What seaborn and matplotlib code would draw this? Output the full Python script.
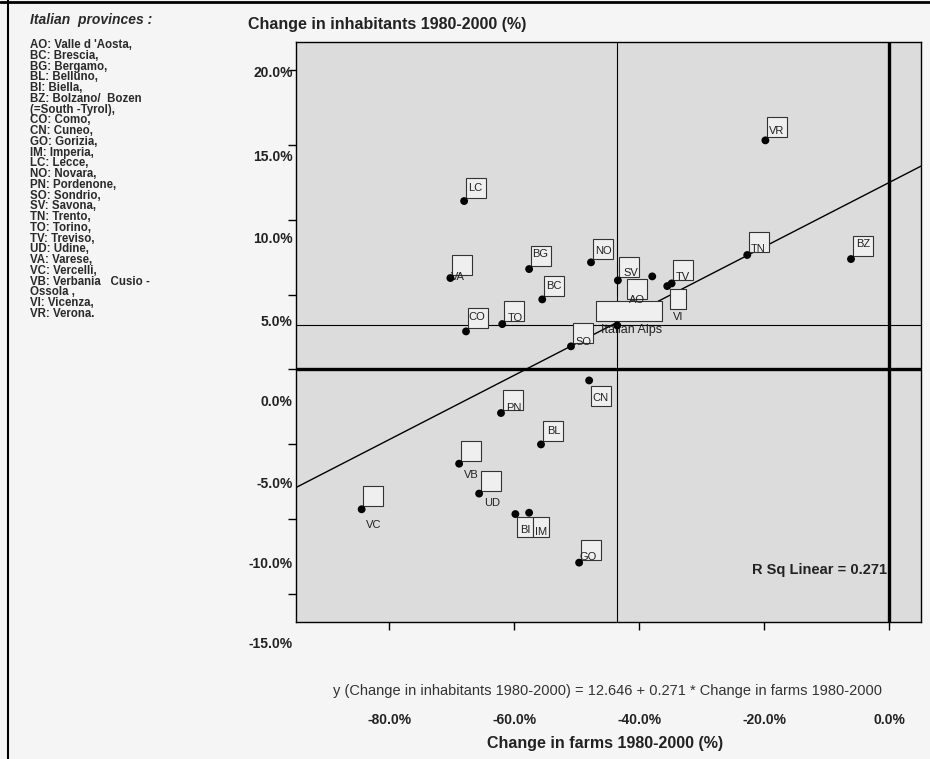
import numpy as np
import pandas as pd
import seaborn as sns
import matplotlib.pyplot as plt
from matplotlib.lines import Line2D
from matplotlib.transforms import ScaledTranslation

# --- values ---
PROVINCES = ["LC", "VA", "BG", "BC", "NO", "CO", "TO", "SO", "SV", "AO", "TV", "VI",
             "TN", "VR", "BZ", "CN", "PN", "BL", "VB", "UD", "VC", "BI", "IM", "GO"]
FARMS_CHANGE = [-68.0, -70.2, -57.6, -55.5, -47.7, -67.7, -61.9, -50.9, -43.4, -37.9, -34.8, -35.5,
                -22.7, -19.8, -6.1, -48.0, -62.1, -55.7, -68.8, -65.6, -84.4, -59.8, -57.6, -49.6]
INHAB_CHANGE = [11.26, 6.11, 6.71, 4.68, 7.16, 2.54, 3.03, 1.54, 5.95, 6.22, 5.75, 5.57,
                7.65, 15.32, 7.38, -0.74, -2.92, -5.02, -6.31, -8.31, -9.36, -9.68, -9.59, -12.93]

ALPS_LABEL = "Italian Alps"
ALPS_FARMS = -43.5
ALPS_INHAB = 2.94

FIT_INTERCEPT = 12.5
FIT_SLOPE = 0.215
EQUATION = "y (Change in inhabitants 1980-2000) = 12.646 + 0.271 * Change in farms 1980-2000"
RSQ_TEXT = "R Sq Linear = 0.271"

X_TICKS = [-80, -60, -40, -20, 0]
Y_TICKS = [20, 15, 10, 5, 0, -5, -10, -15]

LEGEND_TITLE = "Italian  provinces :"
LEGEND_LINES = [
    "AO: Valle d 'Aosta,", "BC: Brescia,", "BG: Bergamo,", "BL: Belluno,", "BI: Biella,",
    "BZ: Bolzano/  Bozen", "(=South -Tyrol),", "CO: Como,", "CN: Cuneo,", "GO: Gorizia,",
    "IM: Imperia,", "LC: Lecce,", "NO: Novara,", "PN: Pordenone,", "SO: Sondrio,",
    "SV: Savona,", "TN: Trento,", "TO: Torino,", "TV: Treviso,", "UD: Udine,",
    "VA: Varese,", "VC: Vercelli,", "VB: Verbania   Cusio -", "Ossola ,", "VI: Vicenza,",
    "VR: Verona.",
]

# --- label box / text placement (pixels from the dot, screen y down) ---
BOX_DEFAULT = (11.5, -13)
BOX_OFFSETS = {"CN": (11.5, 15.5), "AO": (-15, 12.5), "VI": (11, 13),
               "BI": (9.5, 13.3), "IM": (11.8, 14.2)}
NARROW_BOXES = {"VI", "BI", "IM"}
TEXT_OFFSETS = {
    "LC": (11.3, -13), "VA": (8, -1), "BG": (10.6, -15), "BC": (11.3, -13), "NO": (12.3, -11),
    "CO": (10.7, -14), "TO": (13, -6), "SO": (12.6, -4.3), "SV": (12.7, -7.7), "AO": (-15, 24),
    "TV": (11.5, -6.3), "VI": (11, 31), "TN": (11, -5.7), "VR": (11.7, -9.3), "BZ": (11.7, -15),
    "CN": (11, 18), "PN": (12.6, -5.4), "BL": (12.6, -13), "VB": (12, 11), "UD": (13, 9.4),
    "VC": (12, 16), "BI": (9.5, 16), "IM": (12, 19), "GO": (8.6, -5.6),
}
# y tick labels in the scan sit lower than their tick marks
YLABEL_DRIFT = [1, 10, 17.7, 25.5, 31, 38.5, 44, 49]

sns.set_style("white")
plt.rcParams['font.family'] = ['Liberation Sans', 'DejaVu Sans']

df = pd.DataFrame({"province": PROVINCES, "farms": FARMS_CHANGE, "inhab": INHAB_CHANGE})

fig = plt.figure(figsize=(9.3, 7.59), dpi=100, facecolor="#f5f5f5")
ax = fig.add_axes([296 / 930, 1 - 622 / 759, 625 / 930, 580 / 759])
ax.set_facecolor("#dcdcdc")
ax.set_xlim(-94.9, 5.1)
ax.set_ylim(-16.9, 21.9)


def px_shift(dx, dy):
    return ax.transData + ScaledTranslation(dx / 100, -dy / 100, fig.dpi_scale_trans)


# reference lines: zero lines thick, means (Italian Alps) thin
ax.axvline(0, color="black", lw=2.4, zorder=1)
ax.axhline(0, color="black", lw=2.4, zorder=1)
ax.axvline(ALPS_FARMS, color="black", lw=0.8, zorder=1)
ax.axhline(ALPS_INHAB, color="black", lw=0.8, zorder=1)

# fit line
xs = np.array(ax.get_xlim())
ax.plot(xs, FIT_INTERCEPT + FIT_SLOPE * xs, color="black", lw=1.0, zorder=2)

narrow = [(-0.38, -0.5), (0.38, -0.5), (0.38, 0.5), (-0.38, 0.5), (-0.38, -0.5)]
wide = [(-1.675, -0.5), (1.675, -0.5), (1.675, 0.5), (-1.675, 0.5), (-1.675, -0.5)]

for _, row in df.iterrows():
    p = row["province"]
    bdx, bdy = BOX_OFFSETS.get(p, BOX_DEFAULT)
    marker = narrow if p in NARROW_BOXES else "s"
    ax.plot(row["farms"], row["inhab"], marker=marker, ms=15, mfc="#efefef", mec="#333333",
            mew=0.8, ls="none", transform=px_shift(bdx, bdy), zorder=3)
    tdx, tdy = TEXT_OFFSETS[p]
    ax.annotate(p, (row["farms"], row["inhab"]), xytext=(tdx, -tdy), textcoords="offset pixels",
                ha="center", va="center", fontsize=8, color="#222222", zorder=4)

# Italian Alps box
ax.plot(ALPS_FARMS, ALPS_INHAB, marker=wide, ms=48, mfc="#efefef", mec="#333333", mew=0.8,
        ls="none", transform=px_shift(11.5, -14), zorder=3)
ax.annotate(ALPS_LABEL, (ALPS_FARMS, ALPS_INHAB), xytext=(14, -5), textcoords="offset pixels",
            ha="center", va="center", fontsize=9, color="#222222", zorder=4)

sns.scatterplot(data=df, x="farms", y="inhab", color="black", s=32, edgecolor="none",
                ax=ax, zorder=5, legend=False)
ax.scatter([ALPS_FARMS], [ALPS_INHAB], color="black", s=32, edgecolor="none", zorder=5)

ax.text(-0.3, -13.44, RSQ_TEXT, ha="right", va="center", fontsize=10.5, fontweight="bold",
        color="#222222", zorder=4)

# axes, ticks
for s in ax.spines.values():
    s.set_visible(True)
    s.set_color("black")
    s.set_linewidth(1.0)

ax.set_xticks(X_TICKS, [f"{v:.1f}%" for v in X_TICKS])
ax.set_yticks(Y_TICKS, [f"{v:.1f}%" for v in Y_TICKS])
ax.tick_params(axis="x", direction="out", length=5.8, width=1, pad=60, labelsize=10,
               bottom=True, colors="black")
ax.tick_params(axis="y", direction="out", length=5.8, width=1, pad=-3.5, labelsize=10,
               left=True, colors="black")
for lab in ax.get_xticklabels() + ax.get_yticklabels():
    lab.set_fontweight("bold")
    lab.set_color("#222222")
for lab, d in zip(ax.get_yticklabels(), YLABEL_DRIFT):
    lab.set_transform(lab.get_transform() + ScaledTranslation(0, -d / 100, fig.dpi_scale_trans))

ax.set_xlabel("Change in farms 1980-2000 (%)", fontsize=11.5, fontweight="bold", color="#222222")
ax.xaxis.set_label_coords((605 - 296) / 625, (622 - 736) / 580)
ax.set_ylabel("")

fig.text(248 / 930, 1 - 25 / 759, "Change in inhabitants 1980-2000 (%)", ha="left", va="center",
         fontsize=11.5, fontweight="bold", color="#222222")
fig.text(607 / 930, 1 - 691 / 759, EQUATION, ha="center", va="center", fontsize=10.5,
         color="#333333")

# province list on the left
fig.text(30 / 930, 1 - 20 / 759, LEGEND_TITLE, ha="left", va="center", fontsize=10,
         fontweight="bold", style="italic", color="#2a2a2a")
for i, line in enumerate(LEGEND_LINES):
    fig.text(30 / 930, 1 - (45 + i * 10.76) / 759, line, ha="left", va="center",
             fontsize=8.3, fontweight="bold", color="#2a2a2a")

# scan frame lines
fig.add_artist(Line2D([8 / 930, 8 / 930], [0, 1], transform=fig.transFigure, color="black", lw=1.5))
fig.add_artist(Line2D([0, 1], [1 - 1.5 / 759, 1 - 1.5 / 759], transform=fig.transFigure,
                      color="black", lw=2))

fig.savefig("out.png", dpi=100, facecolor=fig.get_facecolor())
